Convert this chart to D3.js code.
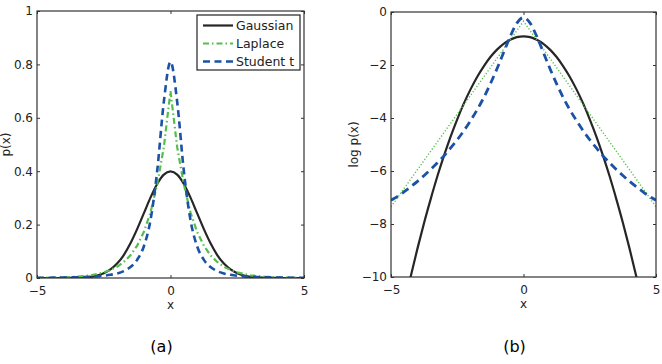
<!DOCTYPE html>
<html>
<head>
<meta charset="utf-8">
<script src="https://cdn.jsdelivr.net/npm/d3@7"></script>
<style>
  body { margin: 0; background: #fff; }
  text { font-family: "DejaVu Sans", sans-serif; }
</style>
</head>
<body>
<div id="chart"></div>
<script>
// x grid, every 0.25
var xs = [-5, -4.75, -4.5, -4.25, -4, -3.75, -3.5, -3.25, -3, -2.75, -2.5, -2.25, -2, -1.75, -1.5, -1.25, -1, -0.75, -0.5, -0.25,
  0, 0.25, 0.5, 0.75, 1, 1.25, 1.5, 1.75, 2, 2.25, 2.5, 2.75, 3, 3.25, 3.5, 3.75, 4, 4.25, 4.5, 4.75, 5];

// panel (a): p(x)
var gaussPdf = [0, 0, 0, 0, 0.0001, 0.0004, 0.001, 0.002, 0.004, 0.009, 0.018, 0.032, 0.054, 0.086, 0.130, 0.183, 0.242, 0.301, 0.352, 0.387,
  0.399, 0.387, 0.352, 0.301, 0.242, 0.183, 0.130, 0.086, 0.054, 0.032, 0.018, 0.009, 0.004, 0.002, 0.001, 0.0004, 0.0001, 0, 0, 0, 0];
var laplacePdf = [0.0006, 0.0009, 0.0013, 0.0018, 0.0026, 0.0037, 0.005, 0.007, 0.010, 0.015, 0.021, 0.030, 0.042, 0.060, 0.085, 0.121, 0.172, 0.245, 0.35, 0.49,
  0.70, 0.49, 0.35, 0.245, 0.172, 0.121, 0.085, 0.060, 0.042, 0.030, 0.021, 0.015, 0.010, 0.007, 0.005, 0.0037, 0.0026, 0.0018, 0.0013, 0.0009, 0.0006];
var studentPdf = [0.0008, 0.0010, 0.0012, 0.0014, 0.0018, 0.0022, 0.0028, 0.0036, 0.0047, 0.0062, 0.0085, 0.012, 0.017, 0.026, 0.041, 0.068, 0.118, 0.216, 0.40, 0.66,
  0.81, 0.66, 0.40, 0.216, 0.118, 0.068, 0.041, 0.026, 0.017, 0.012, 0.0085, 0.0062, 0.0047, 0.0036, 0.0028, 0.0022, 0.0018, 0.0014, 0.0012, 0.0010, 0.0008];

// panel (b): log p(x)
var gaussLog = [-13.4, -12.2, -11.05, -9.95, -8.92, -7.95, -7.05, -6.20, -5.42, -4.70, -4.05, -3.45, -2.92, -2.45, -2.05, -1.70, -1.42, -1.20, -1.05, -0.95,
  -0.92, -0.95, -1.05, -1.20, -1.42, -1.70, -2.05, -2.45, -2.92, -3.45, -4.05, -4.70, -5.42, -6.20, -7.05, -7.95, -8.92, -9.95, -11.05, -12.2, -13.4];
var laplaceLog = [-7.35, -7.00, -6.65, -6.30, -5.95, -5.60, -5.25, -4.90, -4.55, -4.20, -3.85, -3.50, -3.15, -2.80, -2.45, -2.10, -1.75, -1.40, -1.05, -0.70,
  -0.35, -0.70, -1.05, -1.40, -1.75, -2.10, -2.45, -2.80, -3.15, -3.50, -3.85, -4.20, -4.55, -4.90, -5.25, -5.60, -5.95, -6.30, -6.65, -7.00, -7.35];
var studentLog = [-7.10, -6.96, -6.78, -6.59, -6.39, -6.17, -5.94, -5.69, -5.43, -5.13, -4.82, -4.48, -4.10, -3.69, -3.23, -2.71, -2.14, -1.53, -0.92, -0.42,
  -0.21, -0.42, -0.92, -1.53, -2.14, -2.71, -3.23, -3.69, -4.10, -4.48, -4.82, -5.13, -5.43, -5.69, -5.94, -6.17, -6.39, -6.59, -6.78, -6.96, -7.10];

var seriesNames = ["Gaussian", "Laplace", "Student t"];
var xTicks = [-5, 0, 5];
var pdfTicks = [0, 0.2, 0.4, 0.6, 0.8, 1];
var logTicks = [-10, -8, -6, -4, -2, 0];

var W = 662, H = 364;
var frameColor = "#333";
var colors = { "Gaussian": "#262626", "Laplace": "#55bd4b", "Student t": "#1b52a6" };

var svg = d3.select("#chart").append("svg")
  .attr("width", W)
  .attr("height", H);

const fmt = d => String(d).replace("-", "\u2212");

function drawPanel(p) {
  var x = d3.scaleLinear().domain([-5, 5]).range([p.left, p.right]);
  var y = d3.scaleLinear().domain(p.yDomain).range([p.bottom, p.top]);
  var g = svg.append("g");

  g.append("clipPath").attr("id", p.id + "-clip")
    .append("rect")
      .attr("x", p.left).attr("y", p.top)
      .attr("width", p.right - p.left).attr("height", p.bottom - p.top);

  // inward ticks on all four sides, labels only bottom/left
  g.append("g").attr("transform", "translate(0," + p.bottom + ")")
    .call(d3.axisBottom(x).tickValues(xTicks).tickSize(-3).tickPadding(8).tickFormat(fmt));
  g.append("g").attr("transform", "translate(0," + p.top + ")")
    .call(d3.axisTop(x).tickValues(xTicks).tickSize(-3).tickFormat(""));
  g.append("g").attr("transform", "translate(" + p.left + ",0)")
    .call(d3.axisLeft(y).tickValues(p.yTicks).tickSize(-3).tickPadding(4).tickFormat(fmt));
  g.append("g").attr("transform", "translate(" + p.right + ",0)")
    .call(d3.axisRight(y).tickValues(p.yTicks).tickSize(-3).tickFormat(""));
  g.selectAll(".domain").remove();
  g.selectAll(".tick line").attr("stroke", frameColor);
  g.selectAll(".tick text").attr("font-size", 12).attr("fill", "#222")
    .attr("font-family", "DejaVu Sans, sans-serif");

  var lines = g.append("g").attr("clip-path", "url(#" + p.id + "-clip)");
  p.series.forEach(s => {
    var line = d3.line()
      .x((d, i) => x(xs[i]))
      .y(d => y(d))
      .curve(s.curve);
    lines.append("path")
      .datum(s.values)
      .attr("d", line)
      .attr("fill", "none")
      .attr("stroke", colors[s.name])
      .attr("stroke-width", s.width)
      .attr("stroke-dasharray", s.dash);
  });

  g.append("rect")
    .attr("x", p.left).attr("y", p.top)
    .attr("width", p.right - p.left).attr("height", p.bottom - p.top)
    .attr("fill", "none").attr("stroke", frameColor).attr("stroke-width", 1.2);

  // axis labels
  g.append("text")
    .attr("x", (p.left + p.right) / 2).attr("y", p.bottom + 31)
    .attr("text-anchor", "middle").attr("font-size", 12).attr("fill", "#222")
    .text("x");
  g.append("text")
    .attr("transform", "translate(" + p.yLabelX + "," + ((p.top + p.bottom) / 2) + ") rotate(-90)")
    .attr("text-anchor", "middle").attr("font-size", 12).attr("fill", "#222")
    .text(p.yLabel);

  // caption
  g.append("text")
    .attr("x", (p.left + p.right) / 2 - 9).attr("y", 352)
    .attr("text-anchor", "middle").attr("font-size", 16)
    .attr("font-family", "Liberation Serif, Times New Roman, serif")
    .text(p.caption);

  return { g: g, x: x, y: y };
}

drawPanel({
  id: "a", left: 37, right: 304, top: 11, bottom: 278,
  yDomain: [0, 1], yTicks: pdfTicks, yLabel: "p(x)", yLabelX: 10, caption: "(a)",
  series: [
    { name: "Gaussian", values: gaussPdf, width: 2.2, dash: null, curve: d3.curveMonotoneX },
    { name: "Laplace", values: laplacePdf, width: 2.2, dash: "6,3,1.5,3", curve: d3.curveLinear },
    { name: "Student t", values: studentPdf, width: 2.6, dash: "7,4.5", curve: d3.curveMonotoneX }
  ]
});

drawPanel({
  id: "b", left: 391, right: 656, top: 12, bottom: 277,
  yDomain: [-10, 0], yTicks: logTicks, yLabel: "log p(x)", yLabelX: 358, caption: "(b)",
  series: [
    { name: "Gaussian", values: gaussLog, width: 2.2, dash: null, curve: d3.curveMonotoneX },
    { name: "Laplace", values: laplaceLog, width: 1.4, dash: "1.2,2", curve: d3.curveLinear },
    { name: "Student t", values: studentLog, width: 2.8, dash: "8,5", curve: d3.curveMonotoneX }
  ]
});

// legend in panel (a)
var legendDash = { "Gaussian": null, "Laplace": "6,3,1.5,3", "Student t": "7,4.5" };
var leg = svg.append("g").attr("transform", "translate(197,15)");
leg.append("rect")
  .attr("width", 103).attr("height", 55)
  .attr("fill", "#fff").attr("stroke", "#222").attr("stroke-width", 1.2);
seriesNames.forEach((name, i) => {
  var row = leg.append("g").attr("transform", "translate(0," + (10.5 + i * 18) + ")");
  row.append("line")
    .attr("x1", 6).attr("x2", 36)
    .attr("stroke", colors[name]).attr("stroke-width", name === "Student t" ? 2.6 : 2.2)
    .attr("stroke-dasharray", legendDash[name]);
  row.append("text")
    .attr("x", 39).attr("y", 4.5)
    .attr("font-size", 12.5).attr("fill", "#222")
    .text(name);
});
</script>
</body>
</html>
